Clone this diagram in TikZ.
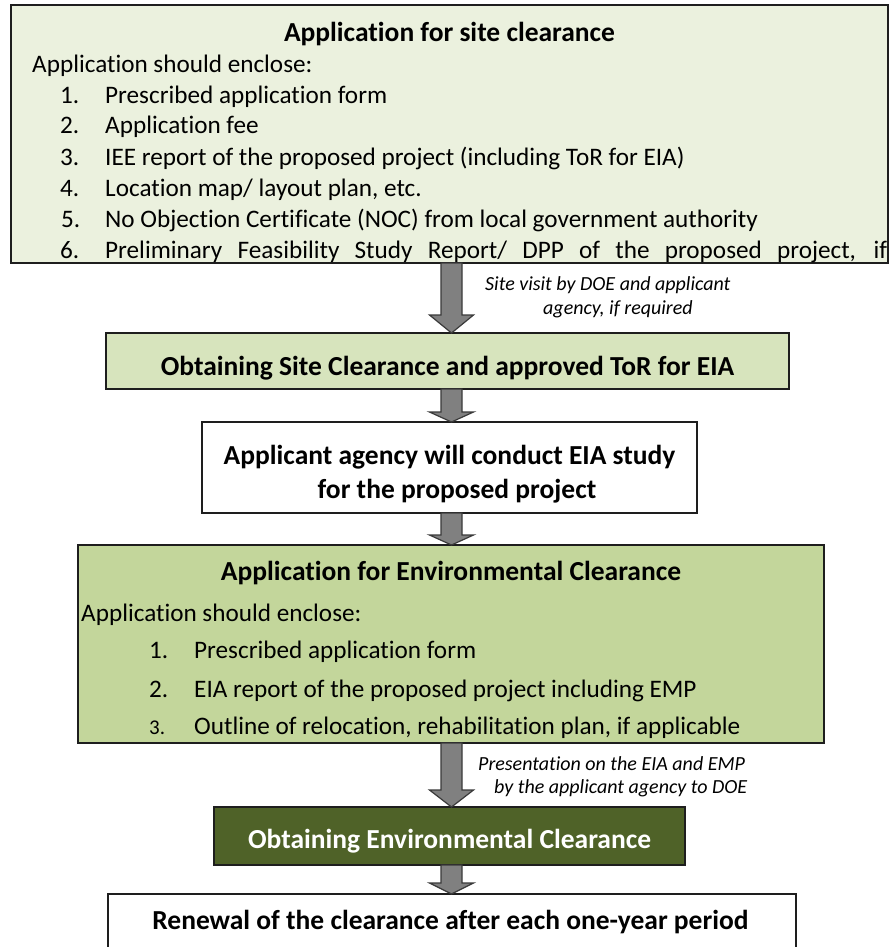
\documentclass[tikz,border=0pt]{standalone}
\usepackage{fontspec}
\setmainfont{Carlito}[Ligatures=NoCommon]
\usetikzlibrary{calc}
\definecolor{gA}{HTML}{EBF1DE}
\definecolor{gB}{HTML}{D7E4BD}
\definecolor{gD}{HTML}{C3D69B}
\definecolor{gE}{HTML}{4F6228}
\definecolor{arrfill}{HTML}{808080}
\definecolor{arrline}{HTML}{3A3A3A}
\definecolor{boxline}{HTML}{1E1E1E}
\newcommand\blkarrow[3]{%
  \draw[barrow] let \p1=(#1), \p2=(#2) in
    (\x1-10.5pt,\y1) -- (\x1-10.5pt,\y2+#3pt) -- (\x1-22pt,\y2+#3pt) -- (\x1,\y2)
    -- (\x1+22pt,\y2+#3pt) -- (\x1+10.5pt,\y2+#3pt) -- (\x1+10.5pt,\y1) -- cycle;}
\begin{document}
\begin{tikzpicture}[x=1pt,y=-1pt,
  box/.style={draw=boxline, line width=1.6pt, inner sep=0pt, outer sep=0pt},
  titletext/.style={font=\bfseries\fontsize{27.5}{33}\selectfont, inner sep=0pt, anchor=base},
  bodytext/.style={font=\fontsize{25.2}{30}\selectfont, inner sep=0pt, anchor=base west},
  notetext/.style={font=\itshape\fontsize{20}{24}\selectfont, inner sep=0pt, anchor=base west},
  barrow/.style={fill=arrfill, draw=arrline, line width=1.2pt, line join=miter}]
\useasboundingbox (0,0) rectangle (889,947);
\clip (0,0) rectangle (889,947);
\fill[white] (0,0) rectangle (889,947);
\coordinate (ax) at (451.5,0);

% Box 1
\node[box, fill=gA, minimum width=877pt, minimum height=258pt] (b1) at (449.5,134) {};
\node[titletext] (t1) at (449.5,42) {Application for site clearance};
\node[bodytext] (e1) at (32,73) {Application should enclose:};
\node[bodytext] (n11) at (60,103) {1.};
\node[bodytext] (i11) at (105,103) {Prescribed application form};
\node[bodytext] (n12) at (60,134) {2.};
\node[bodytext] (i12) at (105,134) {Application fee};
\node[bodytext] (n13) at (60,165) {3.};
\node[bodytext] (i13) at (105,165) {IEE report of the proposed project (including ToR for EIA)};
\node[bodytext] (n14) at (60,196) {4.};
\node[bodytext] (i14) at (105,196) {Location map/ layout plan, etc.};
\node[bodytext] (n15) at (61,227) {5.};
\node[bodytext] (i15) at (105,227) {No Objection Certificate (NOC) from local government authority};
\node[bodytext] (n16) at (60,258) {6.};
\node[bodytext] (i16) at (105,258) {\makebox[782pt][s]{Preliminary Feasibility Study Report/ DPP of the proposed project, if}};

% Box 2
\node[box, fill=gB, minimum width=683pt, minimum height=56pt] (b2) at (447.5,361) {};
\node[titletext] (t2) at (447.5,375) {Obtaining Site Clearance and approved ToR for EIA};

% Box 3
\node[box, fill=white, minimum width=495pt, minimum height=91pt] (b3) at (449.5,467.5) {};
\node[titletext] (t3a) at (449.5,464) {Applicant agency will conduct EIA study};
\node[titletext] (t3b) at (457,498) {for the proposed project};

% Box 4
\node[box, fill=gD, minimum width=746pt, minimum height=198pt] (b4) at (451,644) {};
\node[titletext] (t4) at (451,580) {Application for Environmental Clearance};
\node[bodytext] (e4) at (81,621) {Application should enclose:};
\node[bodytext] (n41) at (149,658) {1.};
\node[bodytext] (i41) at (194,658) {Prescribed application form};
\node[bodytext] (n42) at (149,697) {2.};
\node[bodytext] (i42) at (194,697) {EIA report of the proposed project including EMP};
\node[bodytext, font=\fontsize{21}{25}\selectfont] (n43) at (149,734) {3.};
\node[bodytext] (i43) at (194,734) {Outline of relocation, rehabilitation plan, if applicable};

% Box 5
\node[box, fill=gE, minimum width=471pt, minimum height=58pt] (b5) at (449.5,836) {};
\node[titletext, text=white] (t5) at (449.5,848) {Obtaining Environmental Clearance};

% Box 6
\node[box, fill=white, minimum width=688pt, minimum height=76pt] (b6) at (452,932) {};
\node[titletext] (t6) at (450.5,929) {Renewal of the clearance after each one-year period};

% Arrows
\blkarrow{b1.south -| ax}{b2.north -| ax}{18}
\blkarrow{b2.south -| ax}{b3.north -| ax}{10}
\blkarrow{b3.south -| ax}{b4.north -| ax}{10}
\blkarrow{b4.south -| ax}{b5.north -| ax}{17}
\blkarrow{b5.south -| ax}{b6.north -| ax}{11}

% Notes
\node[notetext] (s1) at (485,290) {Site visit by DOE and applicant};
\node[notetext] (s2) at (543,314) {agency, if required};
\node[notetext] (p1) at (478,770) {Presentation on the EIA and EMP};
\node[notetext] (p2) at (494,793) {by the applicant agency to DOE};
\end{tikzpicture}
\end{document}
